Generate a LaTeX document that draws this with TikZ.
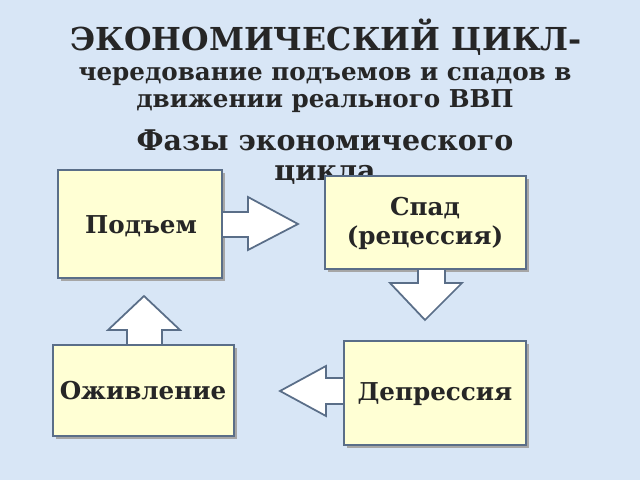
\documentclass[tikz,border=0pt]{standalone}
\usepackage{fontspec}
\setmainfont{DejaVu Serif}
\begin{document}
\begin{tikzpicture}[x=0.02cm,y=-0.02cm,
  box/.style={draw=boxline,line width=1pt,fill=boxfill},
  barrow/.style={draw=boxline,line width=1pt,fill=white},
  txt/.style={font=\bfseries,text=black!85,align=center,inner sep=0pt},
  btxt/.style={txt,font=\bfseries\fontsize{14}{16.5}\selectfont}]
\definecolor{bg}{HTML}{D8E6F6}
\definecolor{boxfill}{HTML}{FFFFD4}
\definecolor{boxline}{HTML}{5A6E88}
\fill[bg] (0,0) rectangle (640,480);
\useasboundingbox (0,0) rectangle (640,480);
\node[txt,font=\bfseries\fontsize{18}{20}\selectfont] (t1) at (326,37) {ЭКОНОМИЧЕСКИЙ ЦИКЛ-};
\node[txt,font=\bfseries\fontsize{14}{15.9}\selectfont] (t2) at (325,90) {чередование подъемов и спадов в\\движении реального ВВП};
\node[txt,font=\bfseries\fontsize{16.2}{17}\selectfont] (t3) at (325,157) {Фазы экономического\\цикла};
\foreach \a/\b/\c/\d in {58/170/222/278, 325/176/526/269, 344/341/526/445, 53/345/234/436}
  \fill[black!35] (\a+3,\b+3) rectangle (\c+3,\d+3);
\draw[box] (58,170) rectangle (222,278);
\draw[box] (325,176) rectangle (526,269);
\draw[box] (344,341) rectangle (526,445);
\draw[box] (53,345) rectangle (234,436);
\node[btxt] (p1) at (141,226) {Подъем};
\node[btxt] (p2) at (425,223) {Спад\\(рецессия)};
\node[btxt] (p3) at (435,394) {Депрессия};
\node[btxt] (p4) at (143,391) {Оживление};
\draw[barrow] (222,212) -- (248,212) -- (248,197) -- (298,224) -- (248,250) -- (248,237) -- (222,237) -- cycle;
\draw[barrow] (418,269) -- (418,283) -- (390,283) -- (425,320) -- (462,283) -- (445,283) -- (445,269) -- cycle;
\draw[barrow] (344,378) -- (326,378) -- (326,366) -- (280,391) -- (326,416) -- (326,404) -- (344,404) -- cycle;
\draw[barrow] (127,345) -- (127,330) -- (108,330) -- (144,296) -- (180,330) -- (162,330) -- (162,345) -- cycle;
\end{tikzpicture}
\end{document}
